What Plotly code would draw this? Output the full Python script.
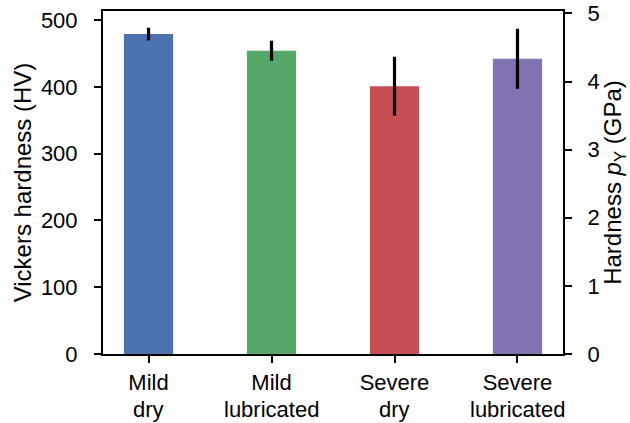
import plotly.graph_objects as go

# Hardness measurements per wear condition
group_labels = ["Mild", "Mild", "Severe", "Severe"]
condition_labels = ["dry", "lubricated", "dry", "lubricated"]
hardness_hv = [479, 454, 401, 442]
hardness_err = [9.5, 15, 44, 45]
bar_colors = ["#4C72B0", "#55A868", "#C44E52", "#8172B2"]

HV_TO_GPA = 0.009807  # Vickers number -> GPa
hv_max = 513.5

x_pos = list(range(len(group_labels)))
family = "Liberation Sans, Arial, sans-serif"
tick_font = dict(family=family, size=22, color="black")
title_font = dict(family=family, size=24, color="black")

fig = go.Figure()
fig.add_trace(go.Bar(
    x=x_pos, y=hardness_hv, width=0.4,
    marker=dict(color=bar_colors, line=dict(width=0)),
    error_y=dict(type="data", array=hardness_err, visible=True,
                 color="black", thickness=3.2, width=0),
    showlegend=False,
))
# same data expressed in GPa on the secondary axis (invisible markers)
fig.add_trace(go.Scatter(
    x=x_pos, y=[h * HV_TO_GPA for h in hardness_hv], yaxis="y2",
    mode="markers", marker=dict(opacity=0), hoverinfo="skip", showlegend=False,
))

axis_common = dict(showline=True, linecolor="black", linewidth=2,
                   ticks="outside", ticklen=7, tickwidth=2, tickcolor="black",
                   showgrid=False, zeroline=False, tickfont=tick_font, automargin=False)

# second line of each category label, set tight under the tick label
for xp, txt in zip(x_pos, condition_labels):
    fig.add_annotation(x=xp, xref="x", y=-0.163, yref="paper", text=txt,
                       showarrow=False, yanchor="middle", xanchor="center",
                       font=tick_font)

fig.update_layout(
    width=630, height=423,
    margin=dict(l=103, r=67, t=11, b=69),
    plot_bgcolor="white", paper_bgcolor="white",
    font=tick_font,
    xaxis=dict(**axis_common, range=[-0.37, 3.37], tickvals=x_pos,
               ticktext=group_labels, mirror=True, ticklabelstandoff=1),
    yaxis=dict(**axis_common, range=[0, hv_max], tickvals=[0, 100, 200, 300, 400, 500],
               ticklabelstandoff=12,
               title=dict(text="Vickers hardness (HV)", font=title_font, standoff=2)),
    yaxis2=dict(**axis_common, range=[0, hv_max * HV_TO_GPA], overlaying="y",
                side="right", tickvals=[0, 1, 2, 3, 4, 5], ticklabelstandoff=11,
                title=dict(text="Hardness <i>p</i><sub>Y</sub> (GPa)", font=title_font, standoff=14)),
)

fig.write_html("out.html")
